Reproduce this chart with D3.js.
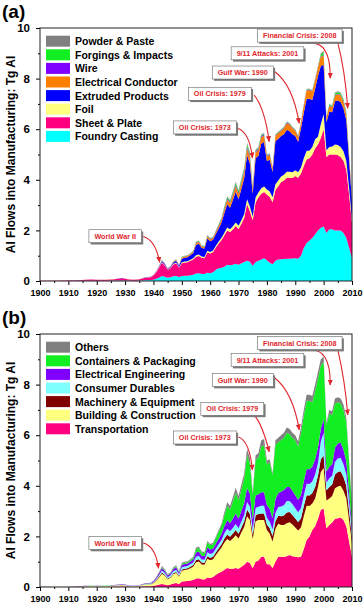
<!DOCTYPE html>
<html>
<head>
<meta charset="utf-8">
<script src="https://cdn.jsdelivr.net/npm/d3@7"></script>
<style>
  body { margin: 0; background: #fff; }
  svg { display: block; font-family: "Liberation Sans", Arial, sans-serif; }
</style>
</head>
<body>
<svg id="chart" width="364" height="604"></svg>
<script>
// years sampled (sparse before 1940, yearly after)
const years = [1900,1905,1910,1913,1916,1918,1920,1923,1926,1929,1931,1933,1935,1937,1939,
  1940,1941,1942,1943,1944,1945,1946,1947,1948,1949,
  1950,1951,1952,1953,1954,1955,1956,1957,1958,1959,
  1960,1961,1962,1963,1964,1965,1966,1967,1968,1969,
  1970,1971,1972,1973,1974,1975,1976,1977,1978,1979,
  1980,1981,1982,1983,1984,1985,1986,1987,1988,1989,
  1990,1991,1992,1993,1994,1995,1996,1997,1998,1999,
  2000,2001,2002,2003,2004,2005,2006,2007,2008,2009,2010];

// ---- panel (a): semi-finished product, Tg Al ----
const foundry = [.001,.002,.004,.006,.01,.012,.01,.012,.016,.024,.016,.01,.016,.03,.035,
  .05,.09,.14,.2,.17,.13,.15,.19,.2,.16,
  .2,.21,.21,.23,.25,.3,.31,.28,.28,.33,
  .31,.35,.44,.5,.52,.56,.64,.62,.64,.68,
  .64,.7,.75,.8,.76,.6,.75,.8,.85,.9,
  .82,.72,.66,.8,.85,.86,.87,.88,.88,.89,
  .9,.88,1.0,1.3,1.5,1.6,1.7,1.85,2.0,2.1,
  2.15,1.9,2.05,2.05,2.0,2.0,2.0,1.9,1.7,1.3,.9];
const sheet = [.004,.008,.015,.022,.036,.044,.036,.042,.056,.082,.056,.035,.056,.1,.115,
  .17,.26,.39,.52,.44,.31,.35,.46,.5,.37,
  .5,.52,.53,.57,.6,.66,.68,.64,.62,.8,
  .78,.8,.88,.98,1.1,1.25,1.36,1.32,1.4,1.5,
  1.42,1.56,1.75,2.25,2.0,1.8,2.35,2.5,2.6,2.62,
  2.6,2.6,2.45,2.8,2.9,3.05,3.1,3.2,3.2,3.18,
  3.25,3.2,3.25,3.25,3.3,3.25,3.3,3.4,3.4,3.55,
  3.85,3.0,2.95,2.95,3.0,2.98,2.9,2.85,2.7,2.1,1.4];
const foil = [0,0,0,0,.002,.002,.002,.003,.004,.006,.004,.002,.004,.008,.008,
  .01,.015,.02,.02,.02,.015,.02,.03,.03,.02,
  .04,.04,.04,.04,.05,.06,.06,.05,.05,.07,
  .06,.06,.07,.08,.09,.1,.11,.11,.12,.13,
  .12,.14,.15,.18,.18,.15,.2,.2,.22,.22,
  .2,.22,.2,.22,.22,.22,.23,.24,.24,.23,
  .23,.22,.23,.3,.35,.3,.3,.35,.3,.55,
  .6,.27,.3,.32,.4,.4,.4,.38,.35,.25,.15];
const extruded = [0,0,.001,.002,.002,.002,.002,.003,.004,.006,.004,.003,.004,.008,.008,
  .01,.015,.02,.04,.03,.02,.03,.05,.07,.05,
  .14,.15,.16,.18,.21,.4,.42,.33,.33,.48,
  .42,.42,.47,.52,.6,.78,.93,.85,1.04,1.22,
  1.05,1.25,1.42,1.75,1.7,.9,1.55,1.45,1.75,1.75,
  1.12,1.25,1.0,1.7,1.65,1.6,1.6,1.66,1.6,1.5,
  1.35,1.2,1.55,1.8,2.05,2.05,1.85,2.0,2.4,2.3,
  1.95,1.1,1.4,1.35,1.7,1.75,1.78,1.7,1.6,1.1,.7];
const conductor = [0,0,0,0,0,0,0,0,0,.002,0,0,0,.004,.004,
  .005,.008,.01,.015,.015,.01,.01,.02,.03,.015,
  .04,.045,.045,.045,.05,.07,.07,.06,.06,.08,
  .07,.07,.08,.09,.11,.14,.18,.17,.2,.22,
  .2,.22,.24,.27,.27,.17,.24,.23,.26,.26,
  .18,.2,.14,.22,.22,.21,.24,.26,.27,.24,
  .21,.19,.21,.29,.34,.34,.34,.34,.34,.36,
  .35,.18,.22,.2,.23,.25,.25,.25,.23,.17,.1];
const wire = [0,0,0,0,0,0,0,0,0,0,0,0,0,0,0,
  .003,.006,.01,.02,.015,.01,.01,.01,.01,.005,
  .01,.01,.01,.01,.01,.02,.02,.01,.01,.02,
  .02,.02,.02,.03,.03,.04,.04,.04,.05,.05,
  .05,.05,.06,.06,.06,.04,.04,.05,.04,.04,
  .03,.03,.02,.02,.02,.02,.02,.02,.02,.02,
  .02,.02,.02,.02,.02,.02,.02,.02,.02,.02,
  .03,.02,.02,.02,.02,.02,.02,.02,.02,.02,.01];
const forgings = [0,0,0,0,0,0,0,0,0,0,0,0,0,0,0,
  .002,.004,.005,.01,.005,.003,.005,.01,.01,.005,
  .015,.015,.015,.015,.02,.02,.02,.02,.02,.02,
  .02,.02,.02,.03,.03,.05,.06,.06,.07,.08,
  .08,.08,.08,.09,.08,.05,.04,.04,.05,.03,
  .03,.02,.02,.02,.02,.02,.02,.02,.02,.02,
  .02,.02,.02,.02,.02,.02,.02,.02,.02,.07,
  .11,.02,.04,.04,.06,.06,.06,.06,.06,.04,.02];
const powder = [0,0,0,0,0,0,0,0,0,0,0,0,0,0,0,
  0,.002,.005,.005,.005,.002,.005,.01,.01,.005,
  .015,.01,.01,.01,.01,.02,.02,.01,.01,.02,
  .02,.01,.02,.02,.02,.03,.03,.03,.03,.04,
  .04,.05,.05,.05,.05,.04,.03,.03,.03,.03,
  .02,.01,.01,.02,.02,.02,.02,.02,.02,.02,
  .02,.02,.02,.02,.02,.02,.02,.02,.02,.05,
  .06,.01,.02,.02,.04,.04,.04,.04,.04,.02,.02];

const namesA = ["Foundry Casting","Sheet & Plate","Foil","Extruded Products",
  "Electrical Conductor","Wire","Forgings & Impacts","Powder & Paste"];
const colorsA = ["#00ffff","#ff0080","#ffff80","#0000ff","#ff8000","#8000ff","#11ee22","#808080"];

// ---- panel (b): end-use sector, Tg Al ----
const transport = [.001,.002,.004,.006,.01,.012,.01,.012,.016,.024,.016,.01,.016,.03,.034,
  .05,.07,.1,.12,.1,.07,.1,.14,.16,.12,
  .22,.23,.24,.26,.28,.34,.35,.31,.3,.38,
  .36,.4,.48,.55,.6,.68,.75,.72,.72,.75,
  .72,.8,.88,1.0,.95,.75,1.0,1.05,1.2,1.2,
  .9,.9,.75,1.0,1.2,1.2,1.2,1.22,1.26,1.22,
  1.2,1.18,1.2,1.5,1.86,2.0,2.25,2.4,2.7,3.05,
  3.1,2.32,2.45,2.55,2.7,2.72,2.75,2.65,2.4,1.8,1.2];
const building = [.002,.004,.008,.012,.02,.024,.02,.024,.032,.048,.032,.02,.032,.06,.068,
  .1,.18,.28,.4,.34,.24,.27,.36,.39,.29,
  .42,.44,.45,.48,.52,.64,.66,.58,.58,.74,
  .7,.7,.78,.86,.96,1.08,1.15,1.1,1.2,1.3,
  1.2,1.35,1.5,1.8,1.7,1.15,1.6,1.6,1.45,1.45,
  1.35,1.2,1.05,1.3,1.3,1.25,1.25,1.3,1.3,1.25,
  1.15,1.05,1.15,1.3,1.35,1.2,1.05,1.1,1.25,1.5,
  1.6,1.1,1.05,1.05,1.2,1.25,1.25,1.15,1.1,.8,.5];
const machinery = [0,.001,.001,.002,.003,.004,.003,.004,.005,.008,.005,.003,.005,.01,.011,
  .016,.025,.035,.05,.04,.03,.03,.04,.045,.03,
  .05,.05,.05,.06,.07,.09,.09,.08,.08,.1,
  .1,.1,.11,.12,.13,.16,.18,.17,.19,.2,
  .18,.2,.22,.26,.24,.18,.24,.24,.26,.26,
  .22,.22,.22,.3,.32,.35,.38,.42,.4,.38,
  .36,.34,.36,.4,.42,.42,.42,.45,.45,.5,
  .5,.4,.45,.45,.55,.58,.58,.55,.5,.38,.25];
const durables = [0,.001,.002,.003,.005,.006,.005,.006,.008,.012,.008,.005,.008,.015,.017,
  .025,.04,.06,.08,.07,.05,.06,.08,.09,.06,
  .09,.09,.09,.1,.1,.13,.13,.12,.12,.15,
  .14,.14,.15,.16,.17,.2,.22,.21,.22,.24,
  .22,.24,.26,.3,.28,.2,.28,.28,.3,.3,
  .27,.26,.25,.32,.34,.38,.4,.46,.44,.42,
  .4,.38,.4,.42,.45,.45,.45,.5,.5,.7,
  .9,.3,.35,.35,.5,.53,.53,.5,.45,.35,.22];
const electrical = [.001,.001,.003,.004,.007,.008,.007,.008,.011,.016,.011,.007,.011,.02,.023,
  .034,.05,.075,.1,.085,.06,.07,.09,.1,.07,
  .1,.1,.1,.11,.12,.16,.17,.15,.15,.2,
  .18,.18,.2,.22,.24,.29,.34,.33,.37,.42,
  .38,.42,.46,.55,.52,.38,.5,.5,.54,.54,
  .5,.5,.45,.55,.56,.58,.6,.55,.55,.53,
  .52,.5,.52,.55,.58,.58,.58,.6,.6,.5,
  .55,.45,.45,.45,.55,.59,.6,.57,.52,.4,.26];
const containers = [0,0,0,0,.001,.001,.001,.001,.002,.003,.002,.001,.002,.004,.005,
  .007,.01,.015,.03,.025,.02,.02,.03,.035,.03,
  .04,.05,.05,.05,.07,.13,.14,.11,.11,.19,
  .17,.18,.22,.27,.32,.43,.57,.53,.68,.82,
  .72,.85,.98,1.3,1.2,.95,1.4,1.45,1.8,1.85,
  1.6,1.85,1.7,2.15,2.0,2.05,2.07,2.15,2.1,2.1,
  2.17,2.1,2.45,2.6,2.7,2.7,2.55,2.7,2.75,2.5,
  2.25,1.83,2.1,1.95,1.75,1.63,1.54,1.58,1.55,1.15,.77];
const others = [.001,.001,.002,.003,.004,.005,.004,.005,.006,.009,.006,.004,.006,.011,.012,
  .018,.025,.035,.05,.04,.03,.03,.04,.04,.03,
  .04,.04,.04,.04,.04,.06,.06,.05,.04,.06,
  .05,.05,.06,.07,.08,.11,.14,.14,.17,.19,
  .18,.19,.2,.24,.21,.14,.18,.18,.25,.25,
  .16,.12,.08,.18,.18,.19,.2,.2,.2,.2,
  .2,.2,.22,.23,.24,.25,.25,.25,.25,.25,
  .2,.1,.15,.15,.2,.2,.2,.2,.18,.12,.1];

const namesB = ["Transportation","Building & Construction","Machinery & Equipment",
  "Consumer Durables","Electrical Engineering","Containers & Packaging","Others"];
const colorsB = ["#ff0080","#ffff80","#800000","#80ffff","#8000ff","#11ee22","#808080"];

const xTicks = d3.range(1900, 2011, 10);
const yTicks = [0, 2, 4, 6, 8, 10];

// event call-outs: box centre, arrow start / control / tip, in [year, Tg]
const notesA = [
  {text: "World War II", box: [1926.5, 1.77], from: [1936.4, 1.76], ctrl: [1940.7, 1.62], to: [1942.2, 0.74]},
  {text: "Oil Crisis: 1973", box: [1958.1, 6.07], from: [1969.6, 6.04], ctrl: [1973.9, 5.89], to: [1974.9, 4.86]},
  {text: "Oil Crisis: 1979", box: [1963.4, 7.40], from: [1975.5, 7.35], ctrl: [1979.2, 6.84], to: [1980.8, 5.51]},
  {text: "Gulf War: 1990", box: [1971.5, 8.24], from: [1982.8, 8.27], ctrl: [1989.1, 7.75], to: [1991.4, 6.23]},
  {text: "9/11 Attacks: 2001", box: [1980.2, 9.0], from: [1994.3, 9.40], ctrl: [2002.6, 9.53], to: [2002.3, 8.01]},
  {text: "Financial Crisis: 2008", box: [1991.6, 9.70], from: [2005.0, 9.41], ctrl: [2007.5, 8.34], to: [2008.5, 6.83]}
];
const notesB = [
  {text: "World War II", box: [1926.5, 1.74], from: [1936.4, 1.74], ctrl: [1940.7, 1.62], to: [1941.8, 0.74]},
  {text: "Oil Crisis: 1973", box: [1958.1, 5.91], from: [1970.0, 5.93], ctrl: [1973.9, 5.77], to: [1974.9, 4.62]},
  {text: "Oil Crisis: 1979", box: [1967.8, 7.04], from: [1975.5, 6.80], ctrl: [1978.5, 6.40], to: [1980.8, 5.34]},
  {text: "Gulf War: 1990", box: [1971.5, 8.18], from: [1982.8, 8.26], ctrl: [1989.1, 7.71], to: [1991.4, 6.21]},
  {text: "9/11 Attacks: 2001", box: [1980.2, 8.97], from: [1994.3, 9.37], ctrl: [2002.6, 9.49], to: [2002.3, 7.98]},
  {text: "Financial Crisis: 2008", box: [1991.6, 9.64], from: [2005.0, 9.37], ctrl: [2007.5, 8.18], to: [2008.5, 6.80]}
];

const svg = d3.select("#chart");
const left = 40, right = 352;
const red = "#e0262c";

svg.append("defs").append("marker")
  .attr("id", "arrowhead")
  .attr("viewBox", "0 0 6 6")
  .attr("refX", 5.5).attr("refY", 3)
  .attr("markerWidth", 6).attr("markerHeight", 6)
  .attr("markerUnits", "userSpaceOnUse")
  .attr("orient", "auto")
  .append("path").attr("d", "M0,0.4 L6,3 L0,5.6 Z").attr("fill", red);

function drawPanel(p) {
  const g = svg.append("g");
  const x = d3.scaleLinear().domain([1900, 2010]).range([left, right]);
  const y = d3.scaleLinear().domain([0, 10]).range([p.bottom, p.top]);

  const table = years.map((yr, i) => {
    const row = {year: yr};
    p.names.forEach((n, k) => { row[n] = p.series[k][i]; });
    return row;
  });
  const layers = d3.stack().keys(p.names)(table);
  const area = d3.area()
    .x(d => x(d.data.year))
    .y0(d => y(d[0]))
    .y1(d => y(d[1]));

  g.append("clipPath").attr("id", "clip-" + p.id)
    .append("rect").attr("x", left).attr("y", p.top)
    .attr("width", right - left).attr("height", p.bottom - p.top);

  g.append("g").attr("clip-path", `url(#clip-${p.id})`)
    .selectAll("path.layer")
    .data(layers)
    .join("path")
    .attr("class", "layer")
    .attr("d", area)
    .attr("fill", (d, i) => p.colors[i]);

  // axes
  const xAxis = g.append("g").attr("transform", `translate(0,${p.bottom})`)
    .call(d3.axisBottom(x).tickValues(xTicks).tickFormat(d3.format("d"))
      .tickSize(4).tickPadding(5).tickSizeOuter(0));
  xAxis.select(".domain").remove();
  xAxis.selectAll("text").attr("font-size", 9).attr("font-weight", "bold")
    .attr("font-family", "Liberation Sans, Arial, sans-serif");
  g.append("g").attr("transform", `translate(0,${p.bottom})`)
    .call(d3.axisBottom(x).tickValues(d3.range(1905, 2010, 10)).tickFormat("").tickSize(2).tickSizeOuter(0))
    .select(".domain").remove();

  const yAxis = g.append("g").attr("transform", `translate(${left},0)`)
    .call(d3.axisLeft(y).tickValues(yTicks).tickSize(4).tickPadding(6).tickSizeOuter(0));
  yAxis.select(".domain").remove();
  yAxis.selectAll("text").attr("font-size", 11.5).attr("font-weight", "bold")
    .attr("font-family", "Liberation Sans, Arial, sans-serif");
  g.append("g").attr("transform", `translate(${left},0)`)
    .call(d3.axisLeft(y).tickValues([1, 3, 5, 7, 9]).tickFormat("").tickSize(2).tickSizeOuter(0))
    .select(".domain").remove();

  g.append("rect")
    .attr("x", left).attr("y", p.top)
    .attr("width", right - left).attr("height", p.bottom - p.top)
    .attr("fill", "none").attr("stroke", "#222").attr("stroke-width", 1);

  g.append("text")
    .attr("transform", `translate(15,${(p.top + p.bottom) / 2}) rotate(-90)`)
    .attr("text-anchor", "middle")
    .attr("font-size", 12).attr("font-weight", "bold")
    .text("Al Flows into Manufacturing: Tg Al");

  g.append("text")
    .attr("x", 2).attr("y", p.top - 10)
    .attr("font-size", 19).attr("font-weight", "bold")
    .text(p.label);

  // legend, top entry = top layer
  const legendItems = p.names.map((n, i) => ({name: n, color: p.colors[i]})).reverse();
  const lg = g.append("g").attr("transform", `translate(${left + 6},${p.top + 7.7})`);
  lg.selectAll("rect").data(legendItems).join("rect")
    .attr("x", 0).attr("y", (d, i) => i * 13.6)
    .attr("width", 24).attr("height", 11)
    .attr("fill", d => d.color);
  lg.selectAll("text").data(legendItems).join("text")
    .attr("x", 29).attr("y", (d, i) => i * 13.6 + 9.5)
    .attr("font-size", 10.5).attr("font-weight", "bold")
    .text(d => d.name);

  // call-outs
  const ng = g.append("g");
  p.notes.forEach(n => {
    ng.append("path")
      .attr("d", `M${x(n.from[0])},${y(n.from[1])} Q${x(n.ctrl[0])},${y(n.ctrl[1])} ${x(n.to[0])},${y(n.to[1])}`)
      .attr("fill", "none").attr("stroke", red).attr("stroke-width", 1.1)
      .attr("marker-end", "url(#arrowhead)");
  });
  p.notes.forEach(n => {
    const cx = x(n.box[0]), cy = y(n.box[1]);
    const box = ng.append("g");
    const shadow = box.append("rect").attr("fill", "#7a7a7a");
    const frame = box.append("rect").attr("fill", "#fff").attr("stroke", "#666").attr("stroke-width", 0.6);
    const t = box.append("text")
      .attr("x", cx).attr("y", cy).attr("dy", "0.36em")
      .attr("text-anchor", "middle")
      .attr("font-size", 7.2).attr("font-weight", "bold")
      .attr("fill", red)
      .text(n.text);
    const w = t.node().getComputedTextLength() + 11, h = 13;
    shadow.attr("x", cx - w / 2 + 1.8).attr("y", cy - h / 2 + 1.8).attr("width", w).attr("height", h);
    frame.attr("x", cx - w / 2).attr("y", cy - h / 2).attr("width", w).attr("height", h);
  });
}

drawPanel({id: "a", label: "(a)", top: 28, bottom: 281,
  names: namesA, colors: colorsA,
  series: [foundry, sheet, foil, extruded, conductor, wire, forgings, powder],
  notes: notesA});
drawPanel({id: "b", label: "(b)", top: 334, bottom: 587,
  names: namesB, colors: colorsB,
  series: [transport, building, machinery, durables, electrical, containers, others],
  notes: notesB});
</script>
</body>
</html>
